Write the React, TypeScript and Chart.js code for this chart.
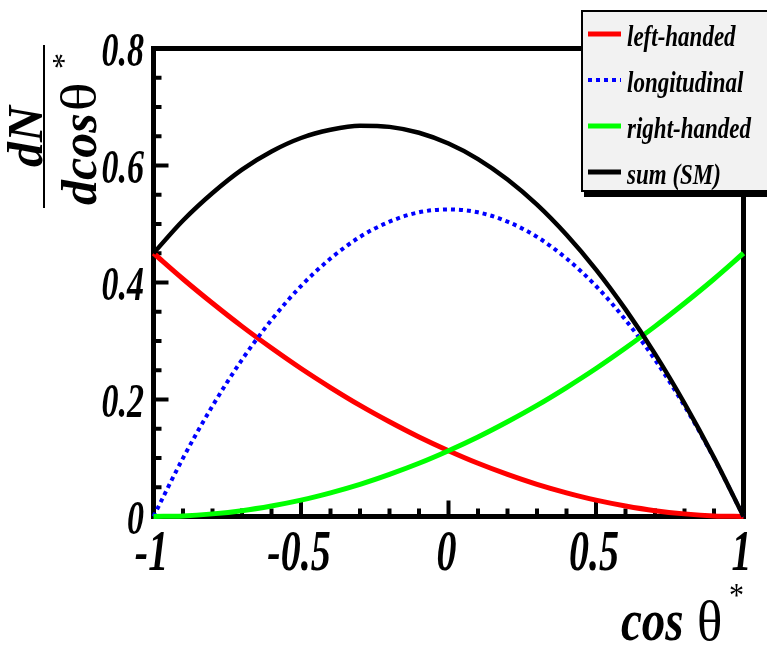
import React, { useEffect, useRef } from "react";
import { Chart, registerables } from "chart.js";

Chart.register(...registerables);

// ---- data ----
const COS_THETA = [-1, -0.9, -0.8, -0.7, -0.6, -0.5, -0.4, -0.3, -0.2, -0.1, 0, 0.1, 0.2, 0.3, 0.4, 0.5, 0.6, 0.7, 0.8, 0.9, 1];
const LEFT_HANDED = [0.45, 0.406, 0.3645, 0.325, 0.288, 0.253, 0.2205, 0.19, 0.162, 0.136, 0.1125, 0.091, 0.072, 0.055, 0.0405, 0.028, 0.018, 0.01, 0.0045, 0.001, 0];
const LONGITUDINAL = [0, 0.0998, 0.189, 0.268, 0.336, 0.394, 0.441, 0.478, 0.504, 0.52, 0.525, 0.52, 0.504, 0.478, 0.441, 0.394, 0.336, 0.268, 0.189, 0.0998, 0];
const RIGHT_HANDED = [0, 0.001, 0.0045, 0.01, 0.018, 0.028, 0.0405, 0.055, 0.072, 0.091, 0.1125, 0.136, 0.162, 0.19, 0.2205, 0.253, 0.288, 0.325, 0.3645, 0.406, 0.45];
const SUM_SM = [0.45, 0.506, 0.553, 0.593, 0.624, 0.647, 0.661, 0.668, 0.666, 0.656, 0.6375, 0.611, 0.576, 0.533, 0.4815, 0.422, 0.354, 0.278, 0.1935, 0.101, 0];

const SERIES_NAMES = ["left-handed", "longitudinal", "right-handed", "sum (SM)"];
const SERIES_COLORS = ["#ff0000", "#0000ff", "#00ff00", "#000000"];

const X_TICKS = [-1, -0.5, 0, 0.5, 1];
const X_TICK_LABELS = ["-1", "-0.5", "0", "0.5", "1"];
const Y_TICKS = [0, 0.2, 0.4, 0.6, 0.8];
const Y_TICK_LABELS = ["0", "0.2", "0.4", "0.6", "0.8"];

const X_TITLE_MAIN = "cos";
const TITLE_THETA = "θ";
const TITLE_STAR = "*";
const Y_TITLE_NUM = "dN";
const Y_TITLE_DEN = "dcos";

const SERIF = '"Liberation Serif", "Times New Roman", serif';

function pts(ys: number[]) {
  return COS_THETA.map((x, i) => ({ x, y: ys[i] }));
}

function drawText(
  ctx: CanvasRenderingContext2D,
  text: string,
  x: number,
  y: number,
  font: string,
  align: CanvasTextAlign,
  sy = 1,
  sx = 1
) {
  ctx.save();
  ctx.font = font;
  ctx.textAlign = align;
  ctx.textBaseline = "alphabetic";
  ctx.fillStyle = "#000";
  ctx.translate(x, y);
  ctx.scale(sx, sy);
  ctx.fillText(text, 0, 0);
  ctx.restore();
}

const rootStyle = {
  id: "rootStyle",
  beforeDatasetsDraw(chart: any) {
    const ctx: CanvasRenderingContext2D = chart.ctx;
    const { left, right, top, bottom } = chart.chartArea;
    const xs = chart.scales.x;
    const ys = chart.scales.y;
    ctx.save();
    // frame
    ctx.strokeStyle = "#000";
    ctx.lineWidth = 5;
    ctx.lineJoin = "miter";
    ctx.strokeRect(left, top, right - left, bottom - top);
    // ticks
    ctx.lineWidth = 4;
    ctx.lineCap = "butt";
    for (let i = 0; i <= 20; i++) {
      const v = -1 + i * 0.1;
      const px = xs.getPixelForValue(v);
      const len = i % 5 === 0 ? 16 : 8;
      ctx.beginPath();
      ctx.moveTo(px, bottom);
      ctx.lineTo(px, bottom - len);
      ctx.stroke();
    }
    for (let i = 0; i <= 16; i++) {
      const v = i * 0.05;
      const py = ys.getPixelForValue(v);
      const len = i % 4 === 0 ? 15 : 8;
      ctx.beginPath();
      ctx.moveTo(left, py);
      ctx.lineTo(left + len, py);
      ctx.stroke();
    }
    ctx.restore();

    // tick labels
    X_TICKS.forEach((v, i) => {
      const px = xs.getPixelForValue(v);
      drawText(ctx, X_TICK_LABELS[i], px - 2, 570, `italic bold 40px ${SERIF}`, "center", 1.45);
    });
    Y_TICKS.forEach((v, i) => {
      const py = ys.getPixelForValue(v);
      drawText(ctx, Y_TICK_LABELS[i], 144, py + 17, `italic bold 34px ${SERIF}`, "right", 1.45);
    });

    // x title
    drawText(ctx, X_TITLE_MAIN, 621, 640, `italic bold 47px ${SERIF}`, "left", 1.25);
    drawText(ctx, TITLE_THETA, 697, 640, `48px ${SERIF}`, "left", 1.18, 1.1);
    drawText(ctx, TITLE_STAR, 729, 606, `30px ${SERIF}`, "left", 1.15);

    // y title (rotated)
    ctx.save();
    ctx.translate(42, 167);
    ctx.rotate(-Math.PI / 2);
    drawText(ctx, Y_TITLE_NUM, 0, 0, `italic bold 50px ${SERIF}`, "left");
    ctx.restore();
    ctx.save();
    ctx.strokeStyle = "#000";
    ctx.lineWidth = 2;
    ctx.beginPath();
    ctx.moveTo(44, 45);
    ctx.lineTo(44, 208);
    ctx.stroke();
    ctx.restore();
    ctx.save();
    ctx.translate(96, 205);
    ctx.rotate(-Math.PI / 2);
    ctx.font = `italic bold 50px ${SERIF}`;
    const w = ctx.measureText(Y_TITLE_DEN).width;
    drawText(ctx, Y_TITLE_DEN, 0, 0, `italic bold 50px ${SERIF}`, "left");
    drawText(ctx, TITLE_THETA, w + 2, 0, `50px ${SERIF}`, "left", 1, 1.2);
    ctx.restore();
    ctx.save();
    ctx.translate(74, 69);
    ctx.rotate(-Math.PI / 2);
    drawText(ctx, TITLE_STAR, 0, 0, `32px ${SERIF}`, "left");
    ctx.restore();
  },
  afterDraw(chart: any) {
    const ctx: CanvasRenderingContext2D = chart.ctx;
    ctx.save();
    // legend shadow + box
    ctx.fillStyle = "#000";
    ctx.fillRect(584, 15, 200, 182);
    ctx.fillStyle = "#f2f2f2";
    ctx.fillRect(582, 11, 200, 180);
    ctx.strokeStyle = "#000";
    ctx.lineWidth = 2;
    ctx.strokeRect(582, 11, 200, 180);
    const rows = [34, 80, 126, 172];
    SERIES_NAMES.forEach((name, i) => {
      const cy = rows[i];
      ctx.save();
      ctx.strokeStyle = SERIES_COLORS[i];
      ctx.lineWidth = i === 1 ? 4 : 5;
      ctx.setLineDash(i === 1 ? [4, 4] : []);
      ctx.beginPath();
      ctx.moveTo(588, cy);
      ctx.lineTo(621, cy);
      ctx.stroke();
      ctx.restore();
      drawText(ctx, name, 627, cy + 11.5, `italic bold 23px ${SERIF}`, "left", 1.3);
    });
    ctx.restore();
  },
};

export default function App() {
  const ref = useRef<HTMLCanvasElement>(null);
  useEffect(() => {
    if (!ref.current) return;
    const mk = (idx: number, ys: number[], order: number, width: number, dash: number[] = []) => ({
      label: SERIES_NAMES[idx],
      data: pts(ys),
      borderColor: SERIES_COLORS[idx],
      backgroundColor: SERIES_COLORS[idx],
      borderWidth: width,
      borderDash: dash,
      borderCapStyle: "butt" as const,
      fill: false,
      pointRadius: 0,
      cubicInterpolationMode: "monotone" as const,
      order,
      clip: false as any,
    });
    const chart = new Chart(ref.current, {
      type: "line",
      data: {
        datasets: [
          mk(0, LEFT_HANDED, 3, 5),
          mk(1, LONGITUDINAL, 2, 4, [4, 4]),
          mk(2, RIGHT_HANDED, 1, 5),
          mk(3, SUM_SM, 0, 4.5),
        ],
      },
      options: {
        responsive: false,
        animation: false,
        devicePixelRatio: 1,
        events: [],
        layout: { padding: { left: 153.5, right: 23.5, top: 48.5, bottom: 135.5 } },
        plugins: { legend: { display: false }, tooltip: { enabled: false } },
        scales: {
          x: {
            type: "linear",
            min: -1,
            max: 1,
            grid: { display: false, drawTicks: false },
            border: { display: false },
            ticks: { display: false },
            afterFit: (s: any) => {
              s.height = 0;
            },
          },
          y: {
            type: "linear",
            min: 0,
            max: 0.8,
            grid: { display: false, drawTicks: false },
            border: { display: false },
            ticks: { display: false },
            afterFit: (s: any) => {
              s.width = 0;
            },
          },
        },
      },
      plugins: [rootStyle],
    });
    return () => chart.destroy();
  }, []);
  return (
    <div style={{ position: "absolute", left: 0, top: 0, width: 767, height: 652, background: "#fff" }}>
      <canvas ref={ref} width={767} height={652} style={{ display: "block" }} />
    </div>
  );
}
